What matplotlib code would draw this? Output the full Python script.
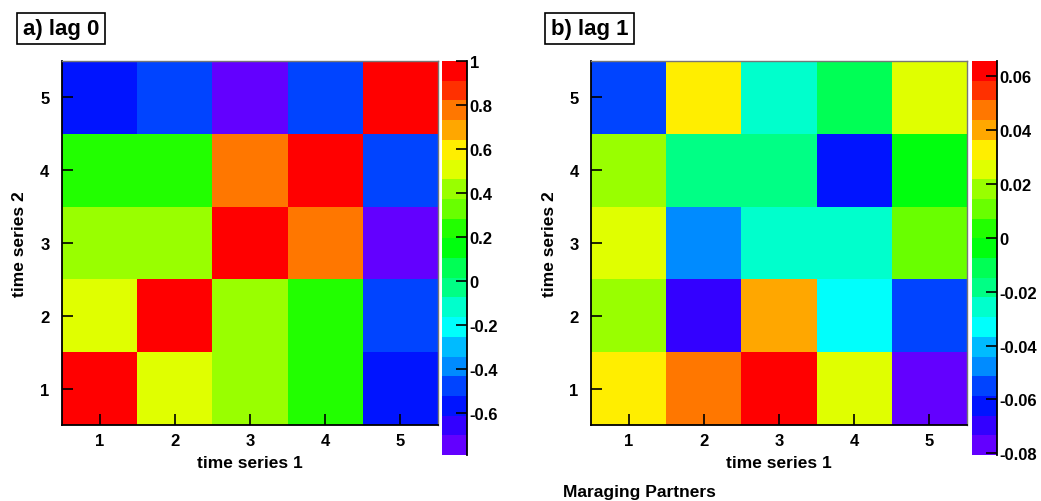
import colorsys
import numpy as np
import matplotlib
matplotlib.use("Agg")
import matplotlib.pyplot as plt
from matplotlib.colors import ListedColormap, BoundaryNorm

plt.rcParams['font.family'] = ['Liberation Sans', 'DejaVu Sans']
plt.rcParams['font.weight'] = 'bold'

# ---- data ----
series_labels = [1, 2, 3, 4, 5]
# rows: time series 2 = 1..5 (bottom to top); cols: time series 1 = 1..5
lag0 = [
    [1.00, 0.51, 0.42, 0.24, -0.57],
    [0.51, 1.00, 0.42, 0.24, -0.48],
    [0.42, 0.42, 1.00, 0.78, -0.79],
    [0.24, 0.24, 0.78, 1.00, -0.48],
    [-0.57, -0.48, -0.79, -0.48, 1.00],
]
lag1 = [
    [0.0326, 0.0472, 0.0656, 0.0253, -0.0806],
    [0.0180, -0.0697, 0.0399, -0.0331, -0.0550],
    [0.0253, -0.0477, -0.0258, -0.0258, 0.0107],
    [0.0180, -0.0185, -0.0185, -0.0623, -0.0039],
    [-0.0550, 0.0326, -0.0258, -0.0112, 0.0253],
]
cbar0_ticks = [1, 0.8, 0.6, 0.4, 0.2, 0, -0.2, -0.4, -0.6]
cbar0_labels = ["1", "0.8", "0.6", "0.4", "0.2", "0", "-0.2", "-0.4", "-0.6"]
cbar1_ticks = [0.06, 0.04, 0.02, 0, -0.02, -0.04, -0.06, -0.08]
cbar1_labels = ["0.06", "0.04", "0.02", "0", "-0.02", "-0.04", "-0.06", "-0.08"]
titles = ["a) lag 0", "b) lag 1"]
xlabel = "time series 1"
ylabel = "time series 2"
footer = "Maraging Partners"

# ---- ROOT "pretty" palette, 20 contour levels ----
ncontours = 20
pal = []
for i in range(50):
    hue = 280 - (i + 1) * (280.0 / 50)
    pal.append(colorsys.hls_to_rgb((hue % 360) / 360.0, 0.5, 1.0))
pal[-1] = (1.0, 0.0, 0.0)
level_colors = [pal[int((k + 0.99) * 50 / ncontours)] for k in range(ncontours)]
cmap = ListedColormap(level_colors)

W, H = 1041, 502
fig = plt.figure(figsize=(W / 100, H / 100), dpi=100)

def fx(px):
    return px / W

def fy(py):
    return 1 - py / H

panels = [
    (lag0, 62, 442, cbar0_ticks, cbar0_labels, titles[0], 16, 106, 20),
    (lag1, 591, 972, cbar1_ticks, cbar1_labels, titles[1], 545, 634, 549),
]

for data, axl, cbl, cticks, clabels, title, tx0, tx1, ylx in panels:
    z = np.array(data)
    zmin, zmax = z.min(), z.max()
    bounds = np.linspace(zmin, zmax, ncontours + 1)
    norm = BoundaryNorm(bounds, ncontours)

    ax = fig.add_axes([fx(axl), fy(426), fx(376), 364 / H])
    edges = np.arange(0.5, 6.0, 1.0)
    mesh = ax.pcolormesh(edges, edges, z, cmap=cmap, norm=norm)
    ax.set_xlim(0.5, 5.5)
    ax.set_ylim(0.5, 5.5)
    ax.set_xticks(series_labels)
    ax.set_yticks(series_labels)
    ax.tick_params(direction='in', length=8, width=1.2, labelsize=12,
                   top=False, right=False)
    ax.tick_params(axis='x', pad=6)
    ax.tick_params(axis='y', pad=9)
    for s in ['left', 'bottom']:
        ax.spines[s].set_linewidth(1.3)
        ax.spines[s].set_color('black')
    for s in ['top', 'right']:
        ax.spines[s].set_linewidth(1.0)
        ax.spines[s].set_color('#777777')
    ax.set_xlabel(xlabel, fontsize=12.5, fontweight='bold', labelpad=5)
    ax.set_ylabel('')
    fig.text(fx(ylx), fy(244), ylabel, rotation=90, fontsize=12.5,
             fontweight='bold', ha='center', va='center')

    cax = fig.add_axes([fx(cbl), fy(456), fx(25), 394 / H])
    cb = fig.colorbar(mesh, cax=cax)
    cb.outline.set_visible(False)
    cb.set_ticks(cticks, labels=clabels)
    cb.minorticks_off()
    cax.tick_params(direction='in', length=8, width=1.2, labelsize=12,
                    right=True, left=False, pad=2)
    cax.plot([1, 1], [0, 1], transform=cax.transAxes, color='black',
             lw=1.3, clip_on=False)

    fig.text(fx((tx0 + tx1) / 2), fy(29.5), title, fontsize=16,
             fontweight='bold', ha='center', va='center',
             bbox=dict(boxstyle='square,pad=0.24', facecolor='white',
                       edgecolor='black', linewidth=1.2))

fig.text(fx(639), fy(493), footer, fontsize=12.5, fontweight='bold',
         ha='center', va='center')

fig.savefig("out.png", dpi=100)
